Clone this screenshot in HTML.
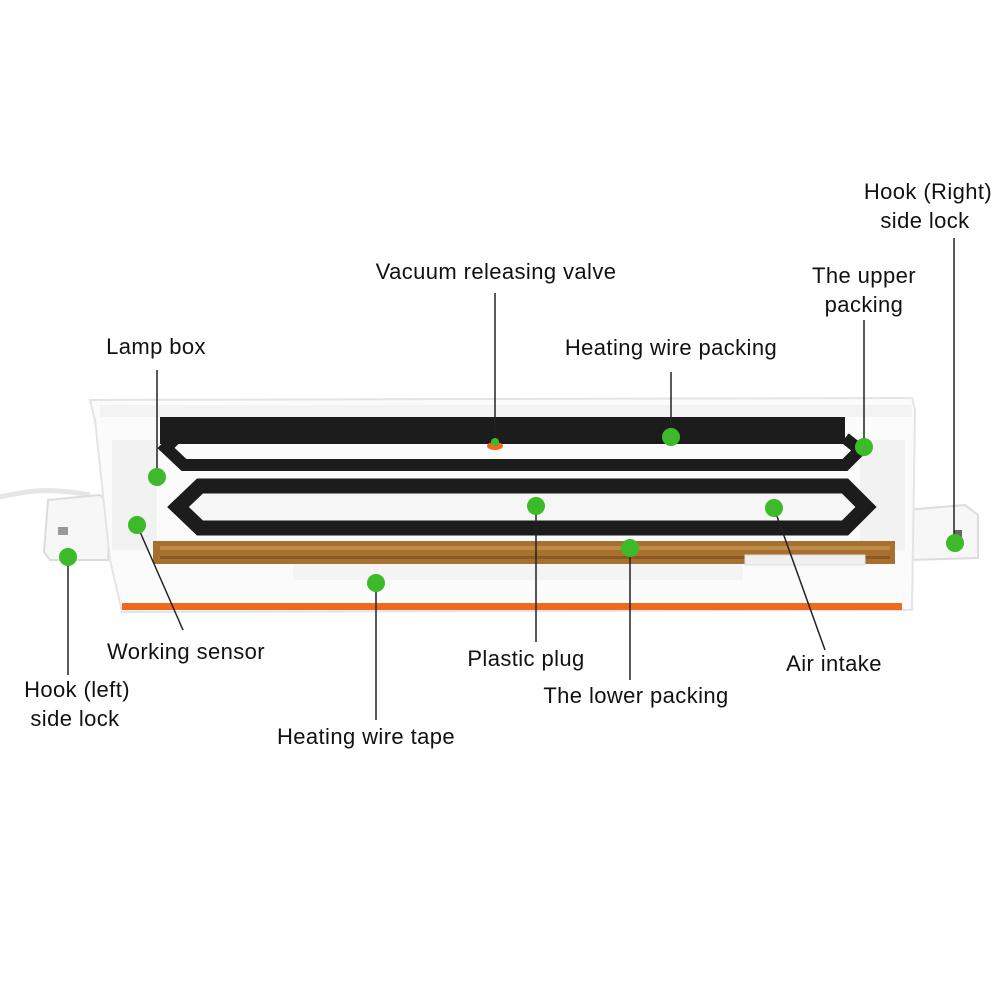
<!DOCTYPE html>
<html><head><meta charset="utf-8"><style>
html,body{margin:0;padding:0;background:#fff;width:1001px;height:1001px;overflow:hidden}
text{font-family:"Liberation Sans","DejaVu Sans",sans-serif;font-size:22px;letter-spacing:0.4px;fill:#111}
</style></head><body>
<svg width="1001" height="1001" viewBox="0 0 1001 1001" xmlns="http://www.w3.org/2000/svg">
<rect width="1001" height="1001" fill="#fff"/>
<path d="M0,497 C30,490 50,488 90,495" stroke="#e6e6e6" stroke-width="5" fill="none"/>
<path d="M48,500 L100,495 L110,505 L108,560 L50,560 L44,552 Z" fill="#f7f7f7" stroke="#dcdcdc" stroke-width="2"/>
<rect x="58" y="527" width="10" height="8" fill="#999"/>
<path d="M905,510 L965,505 L978,515 L978,558 L910,560 Z" fill="#f7f7f7" stroke="#dcdcdc" stroke-width="2"/>
<rect x="954" y="530" width="8" height="10" fill="#666"/>
<path d="M90,400 L912,398 L915,410 L912,610 L122,612 L110,560 L95,420 Z" fill="#fbfbfb" stroke="#e4e4e4" stroke-width="2"/>
<rect x="100" y="405" width="812" height="12" fill="#f3f3f3"/>
<rect x="112" y="440" width="45" height="110" fill="#f2f2f2"/>
<rect x="860" y="440" width="45" height="110" fill="#f2f2f2"/>
<rect x="160" y="417" width="685" height="27" fill="#1c1c1c"/>
<path d="M178,436 L166,448 L184,465 L845,465 L860,450 L845,438" stroke="#1c1c1c" stroke-width="12" fill="none" stroke-linejoin="miter"/>
<path d="M200,486 L845,486 L866,507 L845,528 L200,528 L178,507 Z" stroke="#1c1c1c" stroke-width="15" fill="#f6f6f6"/>
<rect x="153" y="541" width="742" height="23" fill="#a7702f"/>
<rect x="160" y="546" width="730" height="4" fill="#c08a48"/>
<rect x="160" y="556" width="730" height="3" fill="#8a5a22"/>
<rect x="293" y="564" width="450" height="16" fill="#f4f4f4"/>
<rect x="745" y="555" width="120" height="10" fill="#f0f0f0" stroke="#ddd"/>
<rect x="122" y="603" width="780" height="7" fill="#ef6a1f"/>
<ellipse cx="495" cy="446" rx="8" ry="4" fill="#ef6a1f"/>
<g stroke="#222" stroke-width="1.5" fill="none">
<line x1="157" y1="370" x2="157" y2="470"/>
<line x1="495" y1="293" x2="495" y2="440"/>
<line x1="671" y1="372" x2="671" y2="430"/>
<line x1="864" y1="320" x2="864" y2="440"/>
<line x1="954" y1="238" x2="954" y2="536"/>
<line x1="137" y1="525" x2="183" y2="630"/>
<line x1="68" y1="557" x2="68" y2="675"/>
<line x1="376" y1="583" x2="376" y2="720"/>
<line x1="536" y1="506" x2="536" y2="642"/>
<line x1="630" y1="548" x2="630" y2="680"/>
<line x1="774" y1="508" x2="825" y2="650"/>
</g>
<g fill="#3dba2a">
<circle cx="157" cy="477" r="9"/>
<circle cx="137" cy="525" r="9"/>
<circle cx="68" cy="557" r="9"/>
<circle cx="376" cy="583" r="9"/>
<circle cx="495" cy="442" r="4"/>
<circle cx="671" cy="437" r="9"/>
<circle cx="864" cy="447" r="9"/>
<circle cx="536" cy="506" r="9"/>
<circle cx="630" cy="548" r="9"/>
<circle cx="774" cy="508" r="9"/>
<circle cx="955" cy="543" r="9"/>
</g>
<g text-anchor="middle">
<text x="928" y="199">Hook (Right)</text>
<text x="925" y="228">side lock</text>
<text x="496" y="279">Vacuum releasing valve</text>
<text x="864" y="283">The upper</text>
<text x="864" y="312">packing</text>
<text x="156" y="354">Lamp box</text>
<text x="671" y="355">Heating wire packing</text>
<text x="186" y="659">Working sensor</text>
<text x="526" y="666">Plastic plug</text>
<text x="834" y="671">Air intake</text>
<text x="77" y="697">Hook (left)</text>
<text x="75" y="726">side lock</text>
<text x="636" y="703">The lower packing</text>
<text x="366" y="744">Heating wire tape</text>
</g>
</svg>
</body></html>
